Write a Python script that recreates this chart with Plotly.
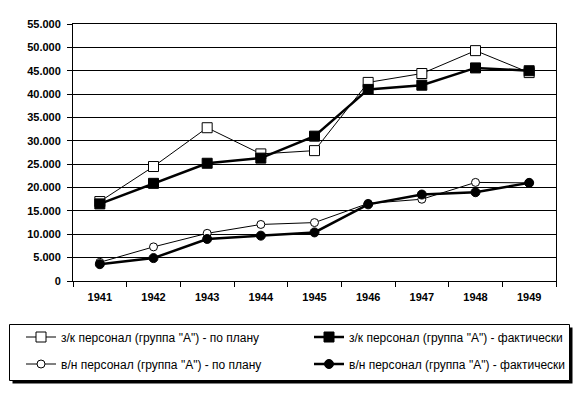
import plotly.graph_objects as go

years = ["1941", "1942", "1943", "1944", "1945", "1946", "1947", "1948", "1949"]
zk_plan = [17000, 24500, 32800, 27200, 27900, 42500, 44400, 49300, 44600]
zk_fact = [16500, 20900, 25200, 26300, 31000, 41000, 41900, 45600, 45000]
vn_plan = [4000, 7300, 10200, 12100, 12500, 16600, 17500, 21100, 21000]
vn_fact = [3600, 4900, 9000, 9700, 10400, 16400, 18500, 19000, 21000]
names = [
    'з/к персонал (группа "А") - по плану',
    'з/к персонал (группа "А") - фактически',
    'в/н персонал (группа "А") - по плану',
    'в/н персонал (группа "А") - фактически',
]
y_tickvals = [0, 5000, 10000, 15000, 20000, 25000, 30000, 35000, 40000, 45000, 50000, 55000]
y_ticktext = ["0", "5.000", "10.000", "15.000", "20.000", "25.000", "30.000",
              "35.000", "40.000", "45.000", "50.000", "55.000"]

FONT = "Liberation Sans, Arial, sans-serif"

fig = go.Figure()
fig.add_trace(go.Scatter(x=years, y=zk_plan, name=names[0], mode="lines+markers", legend="legend",
                         line=dict(color="black", width=1),
                         marker=dict(symbol="square", size=10, color="white",
                                     line=dict(color="black", width=1))))
fig.add_trace(go.Scatter(x=years, y=zk_fact, name=names[1], mode="lines+markers", legend="legend2",
                         line=dict(color="black", width=2.5),
                         marker=dict(symbol="square", size=10, color="black",
                                     line=dict(color="black", width=1))))
fig.add_trace(go.Scatter(x=years, y=vn_plan, name=names[2], mode="lines+markers", legend="legend3",
                         line=dict(color="black", width=1),
                         marker=dict(symbol="circle", size=8, color="white",
                                     line=dict(color="black", width=1))))
fig.add_trace(go.Scatter(x=years, y=vn_fact, name=names[3], mode="lines+markers", legend="legend4",
                         line=dict(color="black", width=2.5),
                         marker=dict(symbol="circle", size=9, color="black",
                                     line=dict(color="black", width=1))))

W, H = 581, 394
ml, mr, mt, mb = 73, 25, 24, 113
pw, ph = W - ml - mr, H - mt - mb

def px_x(x):
    return (x - ml) / pw

def px_y(y):
    return (H - mb - y) / ph

# legend box (shadow + frame)
bx0, bx1, by0, by1 = 9.5, 569.5, 324.5, 380.5
fig.add_shape(type="rect", xref="paper", yref="paper",
              x0=px_x(bx0 + 3), x1=px_x(bx1 + 3), y0=px_y(by1 + 3), y1=px_y(by0 + 3),
              fillcolor="black", line=dict(width=0), layer="above")
fig.add_shape(type="rect", xref="paper", yref="paper",
              x0=px_x(bx0), x1=px_x(bx1), y0=px_y(by1), y1=px_y(by0),
              fillcolor="white", line=dict(color="black", width=1), layer="above")

def leg(xpx, ypx):
    return dict(x=px_x(xpx), y=px_y(ypx), xanchor="left", yanchor="middle",
                bgcolor="rgba(0,0,0,0)", borderwidth=0, itemwidth=30,
                font=dict(family=FONT, size=12, color="black"))

fig.update_layout(
    width=W, height=H,
    margin=dict(l=ml, r=mr, t=mt, b=mb, pad=0, autoexpand=False),
    paper_bgcolor="white", plot_bgcolor="white",
    font=dict(family=FONT, color="black", size=11),
    showlegend=True,
    legend=leg(21, 337),
    legend2=leg(309, 337),
    legend3=leg(21, 364),
    legend4=leg(309, 364),
    xaxis=dict(type="category", range=[-0.5, 8.5], showgrid=False,
               showline=True, linecolor="black", linewidth=1, mirror=True,
               ticks="outside", tickson="boundaries", ticklen=5, tickcolor="black",
               ticklabelstandoff=6,
               tickfont=dict(family=FONT, size=11, weight="bold"), fixedrange=True),
    yaxis=dict(range=[0, 55000], tickvals=y_tickvals, ticktext=y_ticktext,
               showgrid=True, gridcolor="black", gridwidth=1,
               showline=True, linecolor="black", linewidth=1, mirror=True,
               ticks="outside", ticklen=5, tickcolor="black", zeroline=False,
               ticklabelstandoff=4,
               tickfont=dict(family=FONT, size=11, weight="bold"), fixedrange=True),
)

fig.write_html("out.html", config={"displayModeBar": False},
               post_script="document.body.style.margin='0';")
